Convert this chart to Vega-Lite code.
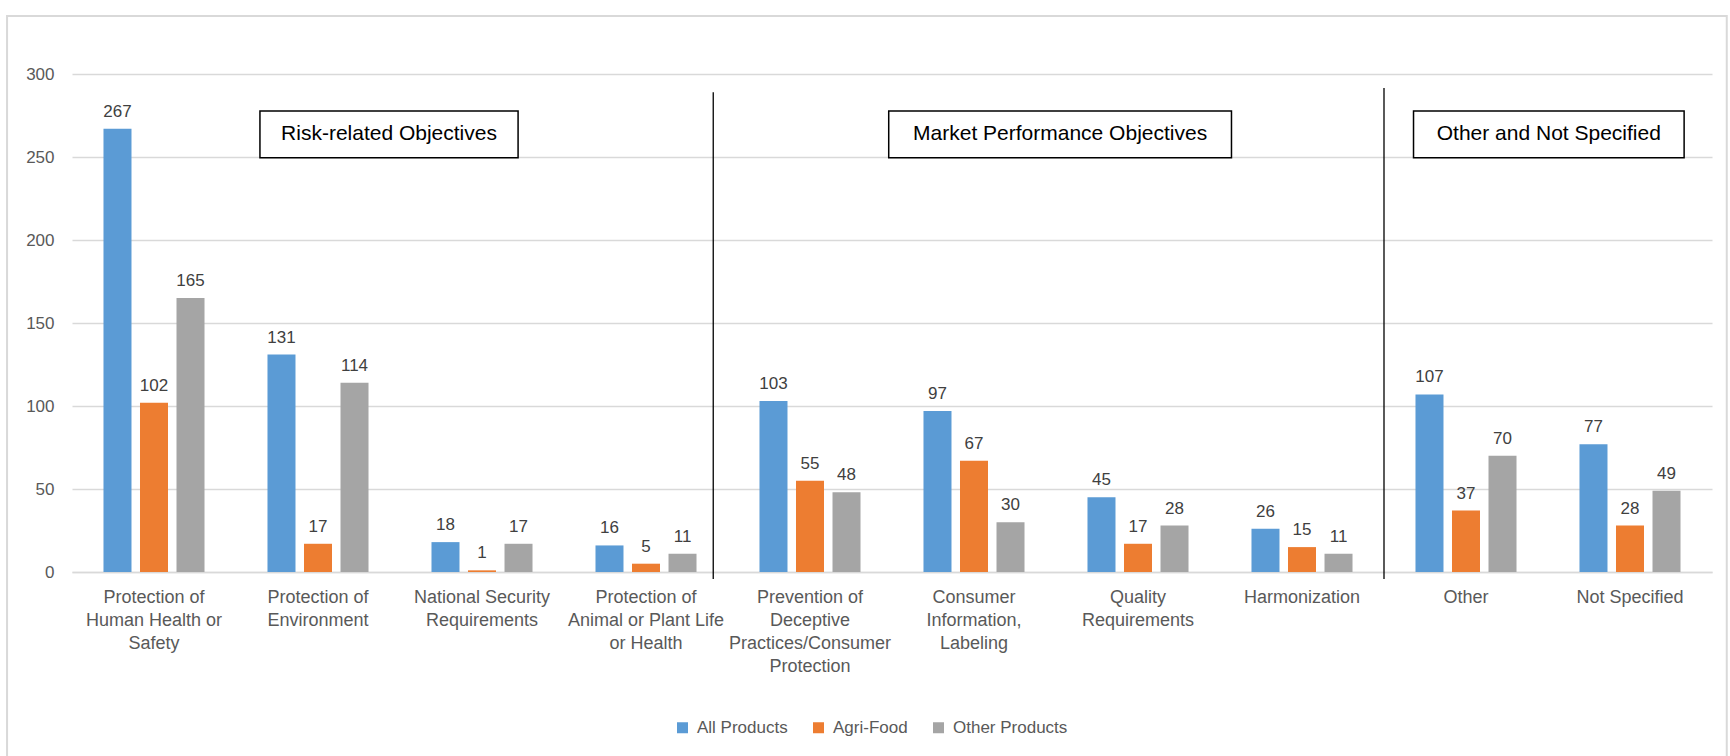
{
  "$schema": "https://vega.github.io/schema/vega-lite/v6.json",
  "width": 1640,
  "height": 498,
  "autosize": {"type": "none"},
  "padding": {"left": 72, "top": 74, "right": 18, "bottom": 184},
  "background": "white",
  "config": {
    "view": {"stroke": null},
    "font": "Liberation Sans",
    "text": {"font": "Liberation Sans"}
  },
  "datasets": {
    "bars": [
      {"category": "Protection of\nHuman Health or\nSafety", "series": "All Products", "value": 267},
      {"category": "Protection of\nHuman Health or\nSafety", "series": "Agri-Food", "value": 102},
      {"category": "Protection of\nHuman Health or\nSafety", "series": "Other Products", "value": 165},
      {"category": "Protection of\nEnvironment", "series": "All Products", "value": 131},
      {"category": "Protection of\nEnvironment", "series": "Agri-Food", "value": 17},
      {"category": "Protection of\nEnvironment", "series": "Other Products", "value": 114},
      {"category": "National Security\nRequirements", "series": "All Products", "value": 18},
      {"category": "National Security\nRequirements", "series": "Agri-Food", "value": 1},
      {"category": "National Security\nRequirements", "series": "Other Products", "value": 17},
      {"category": "Protection of\nAnimal or Plant Life\nor Health", "series": "All Products", "value": 16},
      {"category": "Protection of\nAnimal or Plant Life\nor Health", "series": "Agri-Food", "value": 5},
      {"category": "Protection of\nAnimal or Plant Life\nor Health", "series": "Other Products", "value": 11},
      {"category": "Prevention of\nDeceptive\nPractices/Consumer\nProtection", "series": "All Products", "value": 103},
      {"category": "Prevention of\nDeceptive\nPractices/Consumer\nProtection", "series": "Agri-Food", "value": 55},
      {"category": "Prevention of\nDeceptive\nPractices/Consumer\nProtection", "series": "Other Products", "value": 48},
      {"category": "Consumer\nInformation,\nLabeling", "series": "All Products", "value": 97},
      {"category": "Consumer\nInformation,\nLabeling", "series": "Agri-Food", "value": 67},
      {"category": "Consumer\nInformation,\nLabeling", "series": "Other Products", "value": 30},
      {"category": "Quality\nRequirements", "series": "All Products", "value": 45},
      {"category": "Quality\nRequirements", "series": "Agri-Food", "value": 17},
      {"category": "Quality\nRequirements", "series": "Other Products", "value": 28},
      {"category": "Harmonization", "series": "All Products", "value": 26},
      {"category": "Harmonization", "series": "Agri-Food", "value": 15},
      {"category": "Harmonization", "series": "Other Products", "value": 11},
      {"category": "Other", "series": "All Products", "value": 107},
      {"category": "Other", "series": "Agri-Food", "value": 37},
      {"category": "Other", "series": "Other Products", "value": 70},
      {"category": "Not Specified", "series": "All Products", "value": 77},
      {"category": "Not Specified", "series": "Agri-Food", "value": 28},
      {"category": "Not Specified", "series": "Other Products", "value": 49}
    ],
    "dividers": [
      {"pos": 3.91, "top": 289, "bottom": -4.2},
      {"pos": 8.0, "top": 291.6, "bottom": -4.2}
    ],
    "groups": [
      {"label": "Risk-related Objectives", "start": 1.146, "end": 2.72, "mid": 1.933, "top": 277.7, "bottom": 249.6, "center": 263.6},
      {"label": "Market Performance Objectives", "start": 4.98, "end": 7.07, "mid": 6.025, "top": 277.7, "bottom": 249.6, "center": 263.6},
      {"label": "Other and Not Specified", "start": 8.18, "end": 9.83, "mid": 9.005, "top": 277.7, "bottom": 249.6, "center": 263.6}
    ],
    "frame": [
      {"left": -0.396, "right": 10.09, "top": 335, "bottom": -115}
    ]
  },
  "layer": [
    {
      "data": {"name": "frame"},
      "mark": {"type": "rect", "fill": null, "stroke": "#D9D9D9", "strokeWidth": 2},
      "encoding": {
        "x": {"field": "left", "type": "quantitative", "scale": {"domain": [0, 10], "nice": false, "zero": false}, "axis": null},
        "x2": {"field": "right"},
        "y": {"field": "top", "type": "quantitative"},
        "y2": {"field": "bottom"}
      }
    },
    {
      "data": {"name": "bars"},
      "layer": [
        {
          "mark": {"type": "bar"},
          "encoding": {
            "x": {
              "field": "category", "type": "nominal", "sort": null,
              "scale": {"paddingInner": 0.384, "paddingOuter": 0.192},
              "axis": {
                "title": null,
                "labelAngle": 0,
                "labelExpr": "split(datum.label, '\\n')",
                "labelFontSize": 18,
                "labelColor": "#595959",
                "labelLineHeight": 23,
                "labelPadding": 16,
                "labelBaseline": "top",
                "labelLimit": 300,
                "ticks": false,
                "domainColor": "#D9D9D9",
                "domainWidth": 1.5,
                "grid": false
              }
            },
            "xOffset": {
              "field": "series", "type": "nominal", "sort": ["All Products", "Agri-Food", "Other Products"],
              "scale": {"paddingInner": 0.233, "paddingOuter": 0}
            },
            "y": {
              "field": "value", "type": "quantitative",
              "scale": {"domain": [0, 300], "nice": false},
              "axis": {
                "title": null,
                "values": [0, 50, 100, 150, 200, 250, 300],
                "labelFontSize": 17,
                "labelColor": "#595959",
                "labelPadding": 18,
                "ticks": false,
                "domain": false,
                "gridColor": "#D9D9D9",
                "gridWidth": 1.5
              }
            },
            "color": {
              "field": "series", "type": "nominal",
              "sort": ["All Products", "Agri-Food", "Other Products"],
              "scale": {"domain": ["All Products", "Agri-Food", "Other Products"], "range": ["#5B9BD5", "#ED7D31", "#A5A5A5"]},
              "legend": {
                "title": null,
                "orient": "none",
                "direction": "horizontal",
                "legendX": 602,
                "legendY": 645,
                "symbolType": "square",
                "symbolSize": 121,
                "symbolStrokeWidth": 0,
                "labelFontSize": 17,
                "labelColor": "#595959",
                "columnPadding": 22,
                "labelOffset": 6,
                "padding": 0
              }
            }
          }
        },
        {
          "mark": {"type": "text", "baseline": "alphabetic", "dy": -12, "fontSize": 17, "color": "#404040"},
          "encoding": {
            "x": {"field": "category", "type": "nominal", "sort": null},
            "xOffset": {"field": "series", "type": "nominal", "sort": ["All Products", "Agri-Food", "Other Products"]},
            "y": {"field": "value", "type": "quantitative"},
            "text": {"field": "value", "type": "quantitative"}
          }
        }
      ]
    },
    {
      "data": {"name": "dividers"},
      "mark": {"type": "rule", "color": "#000000", "strokeWidth": 1.3},
      "encoding": {
        "x": {"field": "pos", "type": "quantitative", "scale": {"domain": [0, 10], "nice": false, "zero": false}, "axis": null},
        "y": {"field": "top", "type": "quantitative"},
        "y2": {"field": "bottom"}
      }
    },
    {
      "data": {"name": "groups"},
      "mark": {"type": "rect", "fill": "white", "stroke": "#000000", "strokeWidth": 1.5},
      "encoding": {
        "x": {"field": "start", "type": "quantitative", "scale": {"domain": [0, 10], "nice": false, "zero": false}, "axis": null},
        "x2": {"field": "end"},
        "y": {"field": "top", "type": "quantitative"},
        "y2": {"field": "bottom"}
      }
    },
    {
      "data": {"name": "groups"},
      "mark": {"type": "text", "fontSize": 21, "color": "#000000", "baseline": "middle", "align": "center"},
      "encoding": {
        "x": {"field": "mid", "type": "quantitative", "scale": {"domain": [0, 10], "nice": false, "zero": false}, "axis": null},
        "y": {"field": "center", "type": "quantitative"},
        "text": {"field": "label", "type": "nominal"}
      }
    }
  ],
  "resolve": {"scale": {"x": "independent"}}
}
